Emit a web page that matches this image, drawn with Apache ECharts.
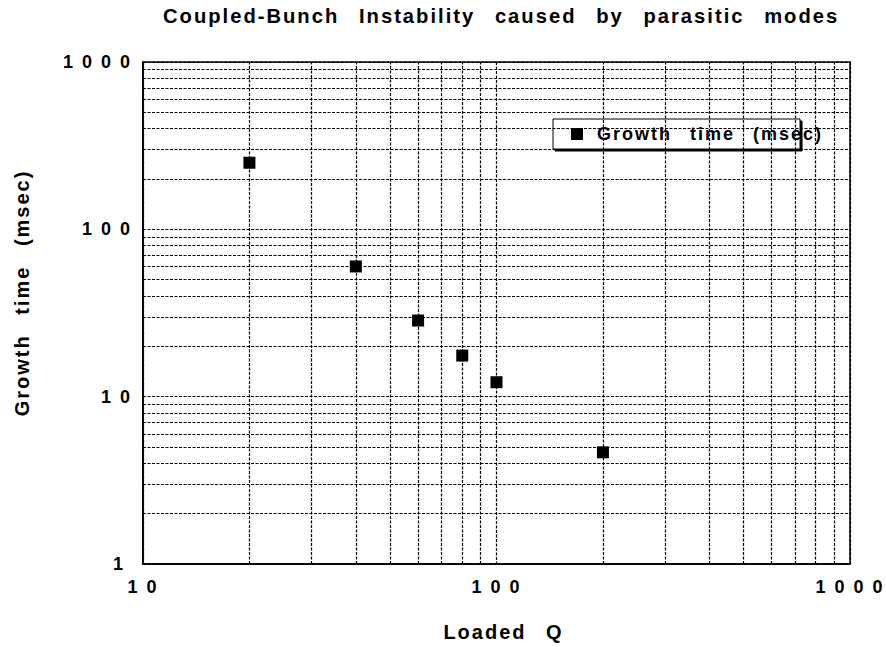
<!DOCTYPE html>
<html>
<head>
<meta charset="utf-8">
<script src="https://cdn.jsdelivr.net/npm/echarts@6/dist/echarts.min.js"></script>
<style>
  html, body { margin: 0; padding: 0; background: #fff; }
  #main { width: 886px; height: 647px; }
  #main text { letter-spacing: 2px; }
</style>
</head>
<body>
<div id="main"></div>
<script>
// ---- data ----
const SEP = '\u00a0\u2002'; // wide word gap as in the original
const titleWords = ['Coupled-Bunch', 'Instability', 'caused', 'by', 'parasitic', 'modes'];
const xAxisWords = ['Loaded', 'Q'];
const yAxisWords = ['Growth', 'time', '(msec)'];
const seriesWords = ['Growth', 'time', '(msec)'];
const loadedQ = [20, 40, 60, 80, 100, 200];
const growthTime = [250, 60, 28.5, 17.6, 12.2, 4.65];
const xMinorGrid = [20, 30, 40, 50, 60, 70, 80, 90, 200, 300, 400, 500, 600, 700, 800, 900];
const yMinorGrid = [2, 3, 4, 5, 6, 7, 8, 9, 20, 30, 40, 50, 60, 70, 80, 90, 200, 300, 400, 500, 600, 700, 800, 900];

const titleText = titleWords.join(SEP);
const xAxisName = xAxisWords.join(SEP);
const yAxisName = yAxisWords.join(SEP);
const seriesName = seriesWords.join(SEP);

const FONT = 'Liberation Sans, Arial, sans-serif';
const gridLine = { color: '#000', width: 1.2, type: [3, 1.5] };
const spaced = v => String(v).split('').join(' ');
const spacedY = v => spaced(v) + (String(v).length === 1 ? '\u00a0' : '');

const chart = echarts.init(document.getElementById('main'), null, { renderer: 'svg' });

const markData = xMinorGrid.map(v => ({ xAxis: v })).concat(yMinorGrid.map(v => ({ yAxis: v })));

chart.setOption({
  animation: false,
  backgroundColor: '#fff',
  title: {
    text: titleText,
    left: 158,
    top: 1,
    textStyle: { fontFamily: FONT, fontSize: 20.2, fontWeight: 'bold', color: '#000' }
  },
  legend: {
    data: [seriesName],
    left: 553,
    top: 119,
    orient: 'horizontal',
    padding: [6, 17, 6, 18],
    backgroundColor: '#fff',
    borderColor: '#000',
    borderWidth: 1,
    shadowColor: '#000',
    shadowBlur: 0,
    shadowOffsetX: 2,
    shadowOffsetY: 2,
    itemWidth: 12,
    itemHeight: 12,
    icon: 'rect',
    textStyle: { fontFamily: FONT, fontSize: 18, fontWeight: 'bold', color: '#000', padding: [0, 0, 0, 9] }
  },
  grid: {
    left: 143, right: 36, top: 62, bottom: 81,
    show: true, borderColor: '#000', borderWidth: 1.5, backgroundColor: 'transparent'
  },
  xAxis: {
    type: 'log', logBase: 10, min: 10, max: 1000,
    name: xAxisName, nameLocation: 'middle', nameGap: 58,
    nameTextStyle: { fontFamily: FONT, fontSize: 20, fontWeight: 'bold', color: '#000', padding: [0, 0, 0, 14] },
    axisLine: { show: true, lineStyle: { color: '#000', width: 1.5 } },
    axisTick: { show: false },
    axisLabel: { margin: 14, fontFamily: FONT, fontSize: 18, fontWeight: 'bold', color: '#000', formatter: spaced, showMinLabel: true, showMaxLabel: true },
    splitLine: { show: true, lineStyle: gridLine }
  },
  yAxis: {
    type: 'log', logBase: 10, min: 1, max: 1000,
    name: yAxisName, nameLocation: 'middle', nameGap: 111, nameRotate: 90,
    nameTextStyle: { fontFamily: FONT, fontSize: 20, fontWeight: 'bold', color: '#000', padding: [0, 0, 0, 40] },
    axisLine: { show: true, lineStyle: { color: '#000', width: 1.5 } },
    axisTick: { show: false },
    axisLabel: { margin: 11, fontFamily: FONT, fontSize: 18, fontWeight: 'bold', color: '#000', formatter: spacedY, showMinLabel: true, showMaxLabel: true },
    splitLine: { show: true, lineStyle: gridLine }
  },
  series: [
    {
      name: 'minor grid',
      type: 'line',
      data: [],
      silent: true,
      z: 1,
      markLine: {
        silent: true,
        symbol: ['none', 'none'],
        label: { show: false },
        lineStyle: gridLine,
        emphasis: { disabled: true },
        animation: false,
        data: markData
      }
    },
    {
      name: seriesName,
      type: 'scatter',
      z: 5,
      symbol: 'rect',
      symbolSize: 12,
      itemStyle: { color: '#000', opacity: 1 },
      data: loadedQ.map((q, i) => [q, growthTime[i]])
    }
  ]
});
</script>
</body>
</html>
